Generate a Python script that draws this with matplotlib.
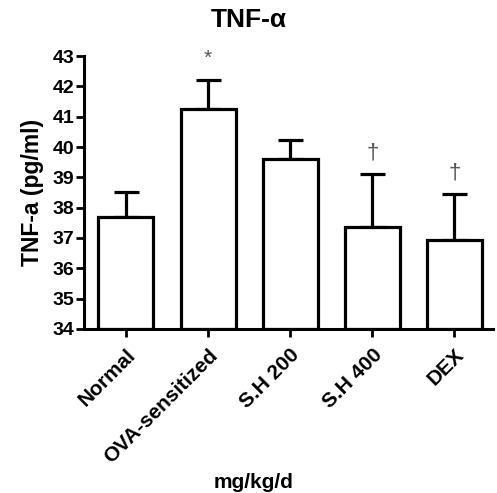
import matplotlib
matplotlib.use("Agg")
import matplotlib.pyplot as plt

categories = ["Normal", "OVA-sensitized", "S.H 200", "S.H 400", "DEX"]
means = [37.7, 41.25, 39.6, 37.35, 36.92]
errors = [0.82, 0.95, 0.63, 1.75, 1.52]
marks = ["", "*", "", "\u2020", "\u2020"]

plt.rcParams['font.family'] = ['Liberation Sans', 'DejaVu Sans']
plt.rcParams['font.weight'] = 'bold'

fig = plt.figure(figsize=(4.97, 4.93), dpi=100)
ax = fig.add_axes([0.169, 0.333, 0.823, 0.553])

x = list(range(len(categories)))
lw = 2.3
ax.bar(x, [m - 34 for m in means], bottom=34, width=0.67, color='white',
       edgecolor='black', linewidth=lw, zorder=2)
ax.errorbar(x, means, yerr=[[0]*len(errors), errors], fmt='none', ecolor='black',
            elinewidth=lw, capsize=9, capthick=lw, zorder=1)

for xi, m, e, s in zip(x, means, errors, marks):
    if s:
        ax.text(xi, m + e + 0.72, s, ha='center', va='center', color='#555555',
                fontsize=15 if s == '*' else 16, fontweight='normal')

ax.set_ylim(34, 43)
ax.set_xlim(-0.51, 4.47)
ax.set_yticks(range(34, 44))
ax.set_xticks(x)
ax.set_xticklabels(categories, rotation=45, ha='right', rotation_mode='anchor', fontsize=15)
ax.tick_params(axis='y', labelsize=14, width=2, length=6, pad=1)
ax.tick_params(axis='x', width=2, length=6, pad=6)
for sp in ['top', 'right']:
    ax.spines[sp].set_visible(False)
for sp in ['left', 'bottom']:
    ax.spines[sp].set_linewidth(2.2)

ax.set_ylabel("TNF-a (pg/ml)", fontsize=16.5, fontweight='bold', labelpad=6)
fig.text(0.5, 0.96, "TNF-\u03b1", ha='center', va='center', fontsize=19, fontweight='bold')
fig.text(0.51, 0.022, "mg/kg/d", ha='center', va='center', fontsize=15, fontweight='bold')

fig.savefig("out.png", dpi=100)
